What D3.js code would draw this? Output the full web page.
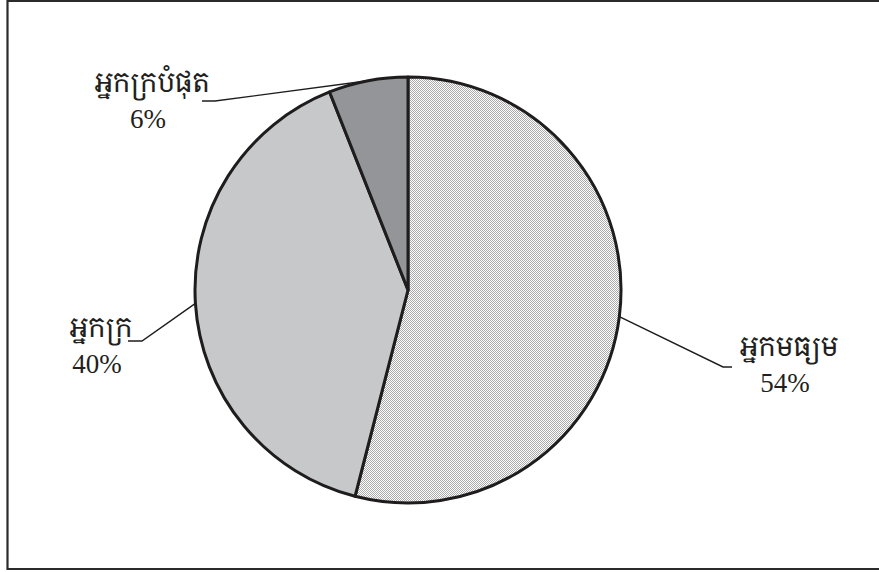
<!DOCTYPE html>
<html>
<head>
<meta charset="utf-8">
<script src="https://cdn.jsdelivr.net/npm/d3@7"></script>
<style>
  html, body { margin: 0; padding: 0; background: #fff; }
</style>
</head>
<body>
<script>
// data
const categories = ["អ្នកមធ្យម", "អ្នកក្រ", "អ្នកក្របំផុត"];
const shares = [54, 40, 6];
const pctLabels = ["54%", "40%", "6%"];

const width = 879, height = 572;
const cx = 408, cy = 290, radius = 213;

// label layout: elbow of the leader line, its end, and the text centre
const labelLayout = [
  { elbow: [723, 367], end: [732, 367], tx: 789, ty: 356 },
  { elbow: [142, 341], end: [128, 341], tx: 101, ty: 337 },
  { elbow: [215, 101], end: [202, 101], tx: 152, ty: 92 }
];

const fills = ["url(#dots)", "#c7c8ca", "#939598"];

const svg = d3.select("body").append("svg")
  .attr("width", width)
  .attr("height", height);

const defs = svg.append("defs");
const pat = defs.append("pattern")
  .attr("id", "dots")
  .attr("patternUnits", "userSpaceOnUse")
  .attr("width", 2).attr("height", 2);
pat.append("rect").attr("width", 2).attr("height", 2).attr("fill", "#fff");
pat.append("rect").attr("x", 0).attr("y", 0).attr("width", 1).attr("height", 1)
  .attr("fill", "#a9a9a9").attr("shape-rendering", "crispEdges");
pat.append("rect").attr("x", 1).attr("y", 1).attr("width", 1).attr("height", 1)
  .attr("fill", "#a9a9a9").attr("shape-rendering", "crispEdges");

// frame
svg.append("path")
  .attr("d", `M${width},1 H7.5 V569 H${width}`)
  .attr("fill", "none")
  .attr("stroke", "#2b2b2b")
  .attr("stroke-width", 2.2);

const pie = d3.pie().sort(null).value(d => d)(shares);
const arc = d3.arc().innerRadius(0).outerRadius(radius);

const g = svg.append("g").attr("transform", `translate(${cx},${cy})`);

g.selectAll("path.slice")
  .data(pie)
  .join("path")
  .attr("class", "slice")
  .attr("d", arc)
  .attr("fill", (d, i) => fills[i])
  .attr("stroke", "#1f1c1d")
  .attr("stroke-width", 3)
  .attr("stroke-linejoin", "round");

// leader lines
const leaders = svg.append("g")
  .attr("fill", "none")
  .attr("stroke", "#1f1c1d")
  .attr("stroke-width", 1.4);

pie.forEach((d, i) => {
  const a = (d.startAngle + d.endAngle) / 2;
  const p0 = [cx + radius * Math.sin(a), cy - radius * Math.cos(a)];
  const L = labelLayout[i];
  leaders.append("path")
    .attr("d", d3.line()([p0, L.elbow, L.end]));
});

// labels
const labels = svg.append("g")
  .attr("text-anchor", "middle")
  .attr("fill", "#231f20");

pie.forEach((d, i) => {
  const L = labelLayout[i];
  labels.append("text")
    .attr("x", L.tx)
    .attr("y", L.ty)
    .style("font-family", "'Khmer OS', 'Noto Serif Khmer', 'Noto Sans Khmer', 'Liberation Serif', serif")
    .style("font-size", "27px")
    .text(categories[i]);
  labels.append("text")
    .attr("x", L.tx - 4)
    .attr("y", L.ty + 36)
    .style("font-family", "'Liberation Serif', 'Times New Roman', serif")
    .style("font-size", "27px")
    .text(pctLabels[i]);
});
</script>
</body>
</html>
